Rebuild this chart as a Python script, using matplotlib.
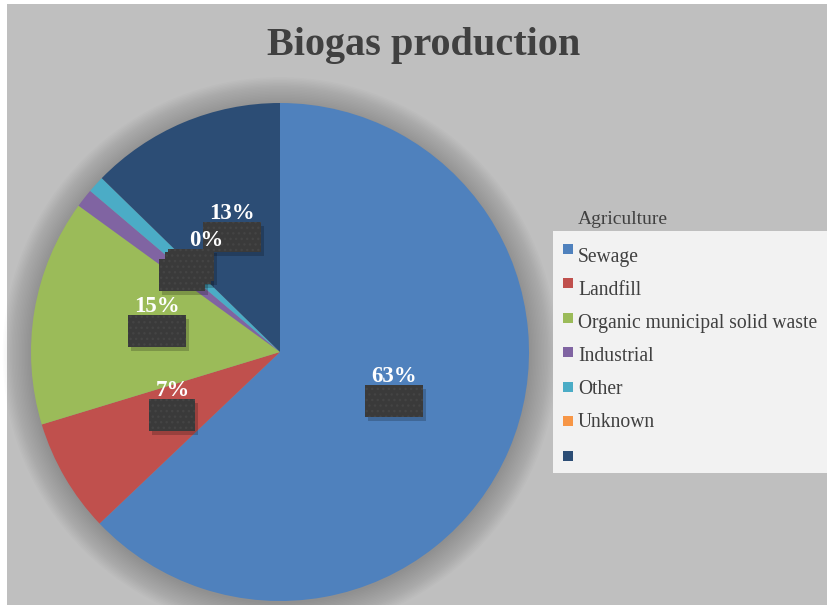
import numpy as np
import matplotlib.pyplot as plt
from matplotlib.patches import Rectangle, Circle

# biogas production shares by source (percent)
categories = ['Sewage', 'Landfill', 'Organic municipal solid waste',
              'Industrial', 'Other', 'Unknown', '']
shares = [62.9, 7.4, 14.7, 1.2, 1.1, 0.0, 12.7]
show_label = [True, True, True, False, False, True, True]
legend_title = 'Agriculture'
title = 'Biogas production'

colors = ['#4f81bd', '#c0504d', '#9bbb59', '#8064a2', '#4bacc6', '#f79646', '#2c4d75']
serif = ['Liberation Serif', 'DejaVu Serif']

W, H = 828, 605
fig = plt.figure(figsize=(W / 100, H / 100), dpi=100, facecolor='white')
# grey chart area
fig.add_artist(Rectangle((7 / W, 0), 1, 1 - 4 / H, transform=fig.transFigure,
                         facecolor='#bfbfbf', edgecolor='none', zorder=-10))

fig.text(424 / W, 1 - 46 / H, title, ha='center', va='center', fontsize=29,
         fontweight='bold', color='#404040', family=serif)

# pie axes: centre (280, 352) px, radius 249 px
cx, cy, R = 280, 352, 249
ax = fig.add_axes([(cx - R) / W, (H - cy - R) / H, 2 * R / W, 2 * R / H])
wedges, _ = ax.pie(shares, colors=colors, startangle=90, counterclock=False,
                   radius=1, wedgeprops=dict(linewidth=0))
ax.set_xlim(-1, 1)
ax.set_ylim(-1, 1)
ax.set_aspect('equal')
ax.axis('off')

# soft shadow behind the pie
for k in range(20):
    ax.add_patch(Circle((0.0, -0.01), 1 + 0.006 * k, color='black',
                        alpha=0.012, zorder=0, clip_on=False, lw=0))

px = 1 / R


def label_box(xc, yc, w, h):
    ax.add_patch(Rectangle((xc - w / 2 + 3 * px, yc - h / 2 - 4 * px), w, h,
                           facecolor='black', alpha=0.2, lw=0, zorder=3))
    ax.add_patch(Rectangle((xc - w / 2, yc - h / 2), w, h, facecolor='#3a3a3a',
                           edgecolor='#444444', hatch='...', lw=0, zorder=4))


text_nudge = {5: 15}   # push the "0%" text a bit right, as in the chart
split_box = {6}        # agriculture label box looks like two stacked boxes

for i, wdg in enumerate(wedges):
    mid = np.deg2rad((wdg.theta1 + wdg.theta2) / 2)
    bx, by = 0.5 * np.cos(mid), 0.5 * np.sin(mid)
    txt = f'{round(shares[i])}%'
    bw = (58 if len(txt) > 2 else 46) * px
    bh = (30 if i in split_box else 32) * px
    if i in split_box:
        label_box(bx, by + bh / 4, bw, bh / 2)
        label_box(bx, by - bh / 4, bw, bh / 2)
    else:
        label_box(bx, by, bw, bh)
    if show_label[i]:
        ax.text(bx + text_nudge.get(i, 0) * px, by + bh / 2 + 3 * px, txt,
                ha='center', va='baseline', fontsize=16.5, fontweight='bold',
                color='white', family=serif, zorder=6)

# legend drawn by hand: title sits above the light box
fig.add_artist(Rectangle((553 / W, 1 - 473 / H), (W - 553) / W, (473 - 231) / H,
                         transform=fig.transFigure, facecolor='#f2f2f2',
                         edgecolor='none', zorder=2))
fig.text(578 / W, 1 - 220 / H, legend_title, ha='left', va='center',
         fontsize=14, color='#404040', family=serif)
for i, name in enumerate(categories):
    my = 248.5 + 34.5 * i
    fig.add_artist(Rectangle((563 / W, 1 - (my + 5) / H), 10 / W, 10 / H,
                             transform=fig.transFigure, facecolor=colors[i],
                             edgecolor='none', zorder=3))
    fig.text(578 / W, 1 - (261.7 + 33 * i) / H, name, ha='left', va='baseline',
             fontsize=14.1, color='#404040', family=serif, zorder=3)

plt.savefig('out.png', dpi=100, facecolor=fig.get_facecolor())
